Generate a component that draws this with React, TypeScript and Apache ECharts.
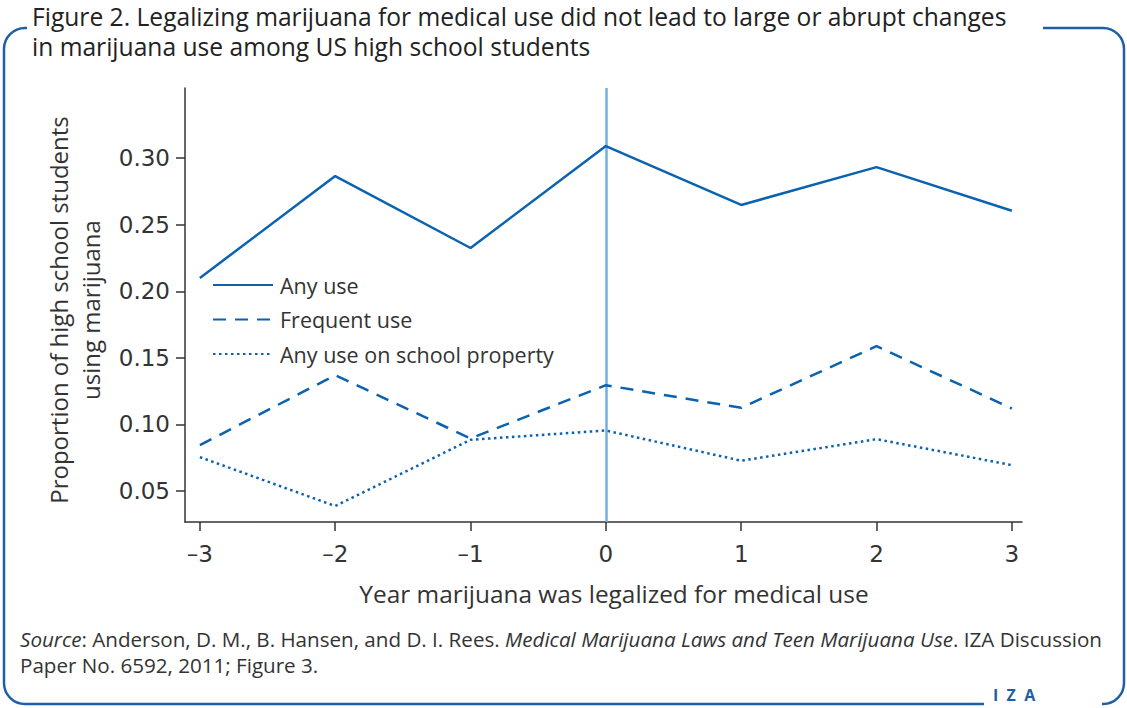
import React, { useEffect, useRef } from "react";
import * as echarts from "echarts";

const years = [-3, -2, -1, 0, 1, 2, 3];
const anyUse = [0.21, 0.2865, 0.2325, 0.309, 0.2648, 0.2932, 0.2605];
const frequentUse = [0.0845, 0.137, 0.0895, 0.1295, 0.1125, 0.1588, 0.112];
const schoolUse = [0.0755, 0.0388, 0.0885, 0.0955, 0.0728, 0.089, 0.0695];
const seriesNames = ["Any use", "Frequent use", "Any use on school property"];
const yTicks = [0.05, 0.1, 0.15, 0.2, 0.25, 0.3];

const BLUE = "#0a62b0";
const FONT = "'Open Sans', 'Liberation Sans', sans-serif";
const NUMFONT = "'DejaVu Sans', sans-serif";

export default function App() {
  const ref = useRef<HTMLDivElement>(null);
  useEffect(() => {
    const chart = echarts.init(ref.current!, null, { renderer: "svg" });
    const mk = (arr: number[]) => years.map((x, i) => [x, arr[i]]);
    const txt = (text: string, x: number, y: number, size: number, extra: any = {}) => ({
      type: "text",
      z: 2,
      x,
      y,
      ...extra,
      style: {
        text,
        fontSize: size,
        fontFamily: FONT,
        fill: "#333",
        verticalAlign: "middle",
        ...(extra.style || {}),
      },
    });
    chart.setOption({
      animation: false,
      backgroundColor: "#fff",
      grid: { left: 185, right: 105, top: 88, bottom: 186 },
      xAxis: {
        type: "value",
        min: -3.11,
        max: 3.075,
        axisLine: { show: true, onZero: false, lineStyle: { color: "#333", width: 1.5 } },
        axisTick: { show: true, customValues: years, length: 9, lineStyle: { color: "#333", width: 1.5 } },
        axisLabel: {
          customValues: years,
          formatter: (v: number) => (v < 0 ? "\u2013" + Math.abs(v) : String(v)),
          fontSize: 23,
          color: "#333",
          fontFamily: NUMFONT,
          margin: 20,
        },
        splitLine: { show: false },
      },
      yAxis: {
        type: "value",
        min: 0.0268,
        max: 0.3526,
        axisLine: { show: true, onZero: false, lineStyle: { color: "#333", width: 1.5 } },
        axisTick: { show: true, customValues: yTicks, length: 9, lineStyle: { color: "#333", width: 1.5 } },
        axisLabel: {
          customValues: yTicks,
          formatter: (v: number) => v.toFixed(2),
          fontSize: 23,
          color: "#333",
          fontFamily: NUMFONT,
          margin: 15,
        },
        splitLine: { show: false },
      },
      legend: {
        orient: "vertical",
        left: 212,
        top: 274,
        itemWidth: 60,
        itemHeight: 14,
        itemGap: 12.5,
        padding: 0,
        data: seriesNames,
        itemStyle: { opacity: 0 },
        textStyle: { fontSize: 21.5, lineHeight: 22, color: "#333", fontFamily: FONT, padding: [0, 0, 0, 2] },
      },
      series: [
        {
          name: seriesNames[0],
          type: "line",
          data: mk(anyUse),
          symbol: "none",
          lineStyle: { color: BLUE, width: 2.5, type: "solid" },
          itemStyle: { color: BLUE },
          markLine: {
            silent: true,
            symbol: "none",
            label: { show: false },
            lineStyle: { color: "#74aee0", width: 2.5, type: "solid" },
            data: [{ xAxis: 0 }],
            z: 1,
          },
        },
        {
          name: seriesNames[1],
          type: "line",
          data: mk(frequentUse),
          symbol: "none",
          lineStyle: { color: BLUE, width: 2.5, type: [13, 9] },
          itemStyle: { color: BLUE },
        },
        {
          name: seriesNames[2],
          type: "line",
          data: mk(schoolUse),
          symbol: "none",
          lineStyle: { color: BLUE, width: 2.5, type: [2.5, 3.5] },
          itemStyle: { color: BLUE },
        },
      ],
      graphic: [
        {
          type: "rect",
          z: 0,
          shape: { x: 4, y: 28, width: 1120, height: 676, r: 21 },
          style: { fill: "none", stroke: "#1f5fa6", lineWidth: 2.5 },
        },
        { type: "rect", z: 1, shape: { x: 27, y: 22, width: 1016, height: 12 }, style: { fill: "#fff" } },
        { type: "rect", z: 1, shape: { x: 984, y: 698, width: 118, height: 10 }, style: { fill: "#fff" } },
        txt("Figure 2. Legalizing marijuana for medical use did not lead to large or abrupt changes", 32, 16.5, 24.6, {
          style: { fill: "#222" },
        }),
        txt("in marijuana use among US high school students", 32, 46.5, 24.6, { style: { fill: "#222" } }),
        txt("Proportion of high school students", 58, 310, 24, {
          rotation: Math.PI / 2,
          style: { align: "center" },
        }),
        txt("using marijuana", 90, 310, 24, { rotation: Math.PI / 2, style: { align: "center" } }),
        txt("Year marijuana was legalized for medical use", 614, 593, 24.4, { style: { align: "center" } }),
        txt(
          "{i|Source}: Anderson, D. M., B. Hansen, and D. I. Rees. {i|Medical Marijuana Laws and Teen Marijuana Use}. IZA Discussion",
          20,
          639,
          20.6,
          { style: { rich: { i: { fontStyle: "italic", fontSize: 20.6, fontFamily: FONT, fill: "#333" } } } }
        ),
        txt("Paper No. 6592, 2011; Figure 3.", 20, 665, 20.6),
        txt("I  Z  A", 993, 695, 16, { style: { fill: "#1f5fa6", fontWeight: "bold" } }),
      ],
    });
    return () => chart.dispose();
  }, []);
  return <div ref={ref} style={{ position: "fixed", left: 0, top: 0, width: 1127, height: 708 }} />;
}
